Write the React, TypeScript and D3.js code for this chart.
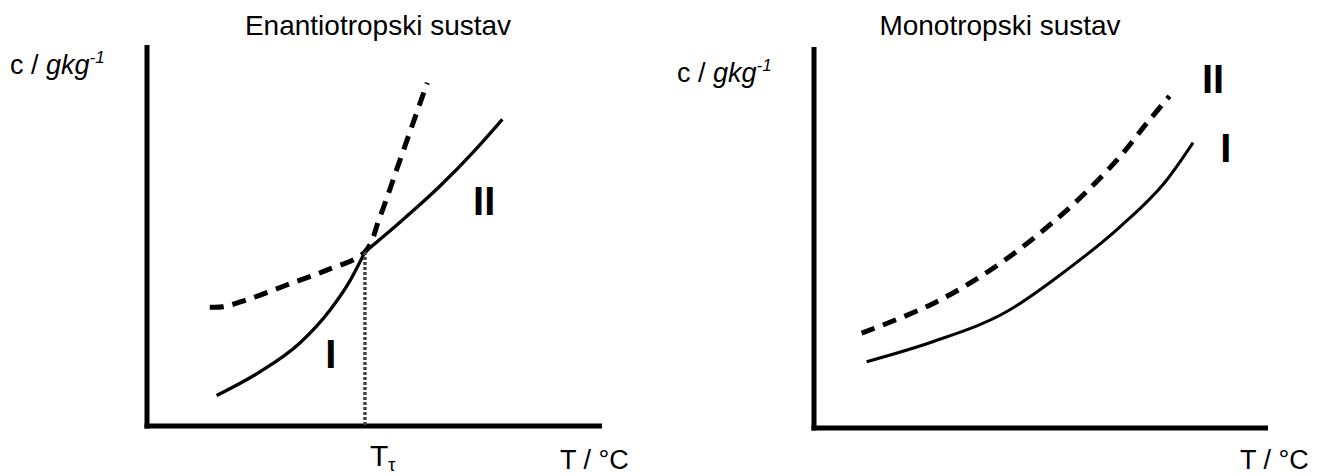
import * as d3 from 'd3'
import { FC, useEffect, useRef } from 'react'

// 坐标为示意单位 (0–100)，两张图各自一套
const enantioTitle = 'Enantiotropski sustav'
const monoTitle = 'Monotropski sustav'
const yLabelMain = 'c / '
const yLabelUnit = 'gkg'
const yLabelSup = '-1'
const xLabel = 'T / °C'

// Enantiotropski sustav
const enDashedX = [13.8, 16.7, 21.9, 30.7, 39.5, 47.9, 51.2, 55.6, 61.6]
const enDashedY = [31.2, 31.3, 33.1, 37.0, 40.9, 45.7, 54.9, 69.8, 90.1]
const enSolidX = [15.3, 24.8, 33.6, 40.2, 44.6, 47.9, 55.6, 64.4, 71.7, 78.1]
const enSolidY = [8.0, 14.2, 21.8, 30.4, 38.1, 45.7, 53.5, 63.0, 71.9, 80.5]
const transitionT = 47.9
const transitionC = 45.7

// Monotropski sustav
const monoDashedX = [10.5, 26.3, 41.0, 55.7, 66.7, 73.3, 78.3]
const monoDashedY = [24.9, 32.7, 43.2, 57.2, 70.3, 80.0, 87.1]
const monoSolidX = [11.6, 26.3, 42.4, 55.7, 67.4, 77.7, 83.5]
const monoSolidY = [17.4, 22.7, 30.5, 41.5, 52.8, 65.1, 74.9]

const FONT = '"Liberation Sans", Arial, sans-serif'

const App: FC = () => {
  const ref = useRef<SVGSVGElement>(null)

  useEffect(() => {
    const svg = d3.select(ref.current)
    svg.selectAll('*').remove()

    const drawPanel = (opts: {
      x0: number, x1: number, yTop: number, yBottom: number,
      title: string, titleX: number,
      yLabX: number, yLabY: number, xLabX: number,
      dashedX: number[], dashedY: number[], solidX: number[], solidY: number[],
      solidWidth: number, solidBreak?: number,
    }) => {
      const x = d3.scaleLinear().domain([0, 100]).range([opts.x0, opts.x1])
      const y = d3.scaleLinear().domain([0, 100]).range([opts.yBottom, opts.yTop])
      const g = svg.append('g')

      // 标题
      g.append('text').attr('x', opts.titleX).attr('y', 35).attr('text-anchor', 'middle')
        .attr('font-family', FONT).attr('font-size', 28).text(opts.title)

      // 坐标轴
      g.append('line').attr('x1', x(0)).attr('x2', x(0)).attr('y1', y(100)).attr('y2', y(0) + 2.5)
        .attr('stroke', '#000').attr('stroke-width', 5)
      g.append('line').attr('x1', x(0) - 2.5).attr('x2', x(100)).attr('y1', y(0)).attr('y2', y(0))
        .attr('stroke', '#000').attr('stroke-width', 5)

      // 轴标签
      const yl = g.append('text').attr('x', opts.yLabX).attr('y', opts.yLabY)
        .attr('font-family', FONT).attr('font-size', 27)
      yl.append('tspan').text(yLabelMain)
      yl.append('tspan').attr('font-style', 'italic').text(yLabelUnit)
      yl.append('tspan').attr('font-style', 'italic').attr('font-size', 17).attr('dy', -11).text(yLabelSup)

      g.append('text').attr('x', opts.xLabX).attr('y', 469)
        .attr('font-family', FONT).attr('font-size', 27).text(xLabel)

      const dashLine = d3.line<[number, number]>().x(d => x(d[0])).y(d => y(d[1])).curve(d3.curveCatmullRom.alpha(0.5))
      const solidLine = d3.line<[number, number]>().x(d => x(d[0])).y(d => y(d[1])).curve(d3.curveMonotoneX)
      g.append('path').attr('d', dashLine(opts.dashedX.map((v, i) => [v, opts.dashedY[i]]))!)
        .attr('fill', 'none').attr('stroke', '#000').attr('stroke-width', 5)
        .attr('stroke-dasharray', '14 9')
      const pts: [number, number][] = opts.solidX.map((v, i) => [v, opts.solidY[i]])
      const parts = opts.solidBreak !== undefined
        ? [pts.slice(0, opts.solidBreak + 1), pts.slice(opts.solidBreak)]
        : [pts]
      parts.forEach(p => {
        g.append('path').attr('d', solidLine(p)!)
          .attr('fill', 'none').attr('stroke', '#000').attr('stroke-width', opts.solidWidth)
          .attr('stroke-linejoin', 'round')
      })
      return { g, x, y }
    }

    const left = drawPanel({
      x0: 147, x1: 602, yTop: 45, yBottom: 426,
      title: enantioTitle, titleX: 378, yLabX: 10, yLabY: 74, xLabX: 560,
      dashedX: enDashedX, dashedY: enDashedY, solidX: enSolidX, solidY: enSolidY, solidWidth: 3.3,
      solidBreak: enSolidX.indexOf(transitionT),
    })
    // 转变温度
    left.g.append('line').attr('x1', left.x(transitionT)).attr('x2', left.x(transitionT))
      .attr('y1', left.y(transitionC)).attr('y2', left.y(0))
      .attr('stroke', '#444').attr('stroke-width', 3.5).attr('stroke-dasharray', '3 2')
    const tt = left.g.append('text').attr('x', left.x(transitionT) + 5).attr('y', 466)
      .attr('font-family', FONT).attr('font-size', 30)
    tt.append('tspan').text('T')
    tt.append('tspan').attr('font-size', 18).attr('dy', 5).text('τ')
    left.g.append('text').attr('x', left.x(40.4)).attr('y', left.y(15.2)).attr('text-anchor', 'middle')
      .attr('font-family', FONT).attr('font-weight', 'bold').attr('font-size', 40).text('I')
    left.g.append('text').attr('x', left.x(74.1)).attr('y', left.y(55.4)).attr('text-anchor', 'middle')
      .attr('font-family', FONT).attr('font-weight', 'bold').attr('font-size', 40).text('II')

    const right = drawPanel({
      x0: 814, x1: 1268, yTop: 47, yBottom: 428,
      title: monoTitle, titleX: 1000, yLabX: 677, yLabY: 82, xLabX: 1240,
      dashedX: monoDashedX, dashedY: monoDashedY, solidX: monoSolidX, solidY: monoSolidY, solidWidth: 3,
    })
    right.g.append('text').attr('x', right.x(87.9)).attr('y', right.y(88.0)).attr('text-anchor', 'middle')
      .attr('font-family', FONT).attr('font-weight', 'bold').attr('font-size', 40).text('II')
    right.g.append('text').attr('x', right.x(90.7)).attr('y', right.y(69.9)).attr('text-anchor', 'middle')
      .attr('font-family', FONT).attr('font-weight', 'bold').attr('font-size', 40).text('I')
  }, [])

  return (
    <svg ref={ref} width={1318} height={476}
      style={{ position: 'absolute', left: 0, top: 0, background: '#fff' }} />
  )
}

export default App
